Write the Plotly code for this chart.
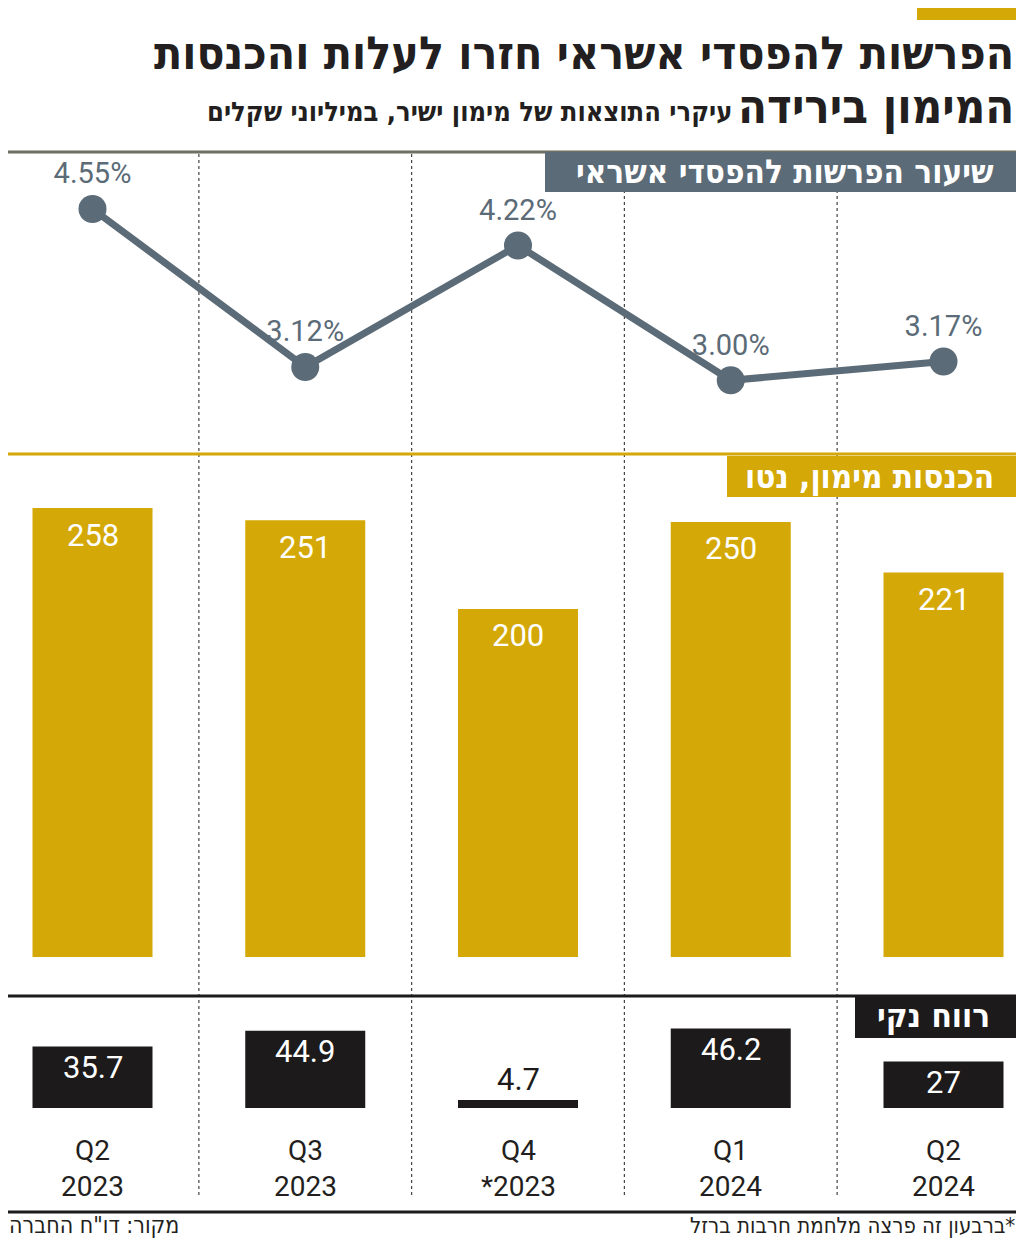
import plotly.graph_objects as go

# data
quarters = ["Q2<br>2023", "Q3<br>2023", "Q4<br>*2023", "Q1<br>2024", "Q2<br>2024"]
provision_rate = [4.55, 3.12, 4.22, 3.00, 3.17]
finance_income = [258, 251, 200, 250, 221]
net_profit = [35.7, 44.9, 4.7, 46.2, 27]

title_1 = "הפרשות להפסדי אשראי חזרו לעלות והכנסות"
title_2 = "המימון בירידה"
subtitle = "עיקרי התוצאות של מימון ישיר, במיליוני שקלים"
label_rate = "שיעור הפרשות להפסדי אשראי"
label_income = "הכנסות מימון, נטו"
label_profit = "רווח נקי"
note = "\u200f*ברבעון זה פרצה מלחמת חרבות ברזל"
source = 'מקור: דו"ח החברה'

GOLD = "#D4A806"
SLATE = "#5B6B77"
BLACK = "#1C1A1A"
TEXT = "#231F20"
HEB = "DejaVu Sans Condensed, DejaVu Sans, sans-serif"
NUM = "Liberation Sans Narrow, Roboto, sans-serif"

# page has an 8px body margin, so the figure is shrunk to fit the window
PAD = 8
W, H = 1024 - 2 * PAD, 1246 - 2 * PAD


def py(p):
    # page pixel row -> paper y
    return 1 - (p - PAD) / H


def px(p):
    return (p - PAD) / W


fig = go.Figure()

fig.add_trace(go.Scatter(
    x=quarters, y=provision_rate, mode="lines+markers+text",
    line=dict(color=SLATE, width=7),
    marker=dict(color=SLATE, size=28),
    text=[f"{v:.2f}%" for v in provision_rate],
    textposition="top center",
    textfont=dict(family=NUM, size=29, color=SLATE),
    xaxis="x", yaxis="y", cliponaxis=False,
))

fig.add_trace(go.Bar(
    x=quarters, y=finance_income, marker=dict(color=GOLD, line_width=0),
    width=0.564, xaxis="x", yaxis="y2",
))

fig.add_trace(go.Bar(
    x=quarters, y=net_profit, marker=dict(color=BLACK, line_width=0),
    width=0.564, xaxis="x", yaxis="y3",
))

annotations = []
for q, v in zip(quarters, finance_income):
    annotations.append(dict(x=q, y=v, xref="x", yref="y2", text=str(v),
                            showarrow=False, yanchor="middle", yshift=-27,
                            font=dict(family=NUM, size=31, color="white")))
for q, v in zip(quarters, net_profit):
    small = v < 10
    annotations.append(dict(x=q, y=v, xref="x", yref="y3", text=f"{v:g}",
                            showarrow=False, yanchor="middle",
                            yshift=20 if small else -21,
                            font=dict(family=NUM, size=31,
                                      color=BLACK if small else "white")))
for q in quarters:
    annotations.append(dict(x=q, y=py(1132), xref="x", yref="paper", text=q,
                            showarrow=False, yanchor="top",
                            font=dict(family=NUM, size=28, color=TEXT)))

# titles
annotations += [
    dict(x=px(1016), y=py(53), xref="paper", yref="paper", xanchor="right",
         yanchor="middle", text=f"<b>{title_1}</b>", showarrow=False,
         font=dict(family=HEB, size=46, color=TEXT)),
    dict(x=px(1016), y=py(107), xref="paper", yref="paper", xanchor="right",
         yanchor="middle", text=f"<b>{title_2}</b>", showarrow=False,
         font=dict(family=HEB, size=47, color=TEXT)),
    dict(x=px(734), y=py(111), xref="paper", yref="paper", xanchor="right",
         yanchor="middle", text=f"<b>{subtitle}</b>", showarrow=False,
         font=dict(family=HEB, size=27, color=TEXT)),
    dict(x=px(996), y=py(171), xref="paper", yref="paper", xanchor="right",
         yanchor="middle", text=f"<b>{label_rate}</b>", showarrow=False,
         font=dict(family=HEB, size=33, color="white")),
    dict(x=px(996), y=py(476), xref="paper", yref="paper", xanchor="right",
         yanchor="middle", text=f"<b>{label_income}</b>", showarrow=False,
         font=dict(family=HEB, size=33, color="white")),
    dict(x=px(992), y=py(1016), xref="paper", yref="paper", xanchor="right",
         yanchor="middle", text=f"<b>{label_profit}</b>", showarrow=False,
         font=dict(family=HEB, size=33, color="white")),
    dict(x=px(1016), y=py(1225), xref="paper", yref="paper", xanchor="right",
         yanchor="middle", text=note, showarrow=False, borderpad=0,
         font=dict(family=HEB, size=22, color=TEXT)),
    dict(x=0, y=py(1225), xref="paper", yref="paper", xanchor="left",
         yanchor="middle", text=source, showarrow=False, borderpad=0,
         font=dict(family=HEB, size=23, color=TEXT)),
]

shapes = [
    # gold tag top right
    dict(type="rect", xref="paper", yref="paper", x0=px(917), x1=px(1016),
         y0=py(7), y1=py(20), fillcolor=GOLD, line_width=0, layer="below"),
    # panel rules
    dict(type="line", xref="paper", yref="paper", x0=px(5), x1=px(1016),
         y0=py(152), y1=py(152), line=dict(color="#6F6E62", width=3)),
    dict(type="line", xref="paper", yref="paper", x0=px(5), x1=px(1016),
         y0=py(454), y1=py(454), line=dict(color=GOLD, width=3)),
    dict(type="line", xref="paper", yref="paper", x0=px(5), x1=px(1016),
         y0=py(996), y1=py(996), line=dict(color=BLACK, width=3)),
    dict(type="line", xref="paper", yref="paper", x0=px(5), x1=px(1016),
         y0=py(1212), y1=py(1212), line=dict(color=BLACK, width=3)),
    # panel label boxes
    dict(type="rect", xref="paper", yref="paper", x0=px(545), x1=px(1016),
         y0=py(192), y1=py(152), fillcolor=SLATE, line_width=0),
    dict(type="rect", xref="paper", yref="paper", x0=px(727), x1=px(1016),
         y0=py(497), y1=py(456), fillcolor=GOLD, line_width=0),
    dict(type="rect", xref="paper", yref="paper", x0=px(855), x1=px(1016),
         y0=py(1038), y1=py(997), fillcolor=BLACK, line_width=0),
]
# dotted separators between quarters
for i in range(len(quarters) - 1):
    shapes.append(dict(type="line", xref="x", yref="paper", x0=i + 0.5, x1=i + 0.5,
                       y0=py(154), y1=py(1198), layer="below",
                       line=dict(color="#444444", width=1.2, dash="dot")))

# category positions: centre of first bar at 92.5px, step 212.75px
x0 = (PAD - 92.5) / 212.75
x1 = (PAD + W - 92.5) / 212.75

fig.update_layout(
    width=W, height=H, margin=dict(l=0, r=0, t=0, b=0),
    paper_bgcolor="white", plot_bgcolor="white",
    showlegend=False, annotations=annotations, shapes=shapes,
    xaxis=dict(type="category", range=[x0, x1], domain=[0, 1],
               visible=False, anchor="y3"),
    yaxis=dict(domain=[py(455), py(152)], range=[2.324, 5.066], visible=False),
    yaxis2=dict(domain=[py(957), py(455)], range=[0, 288.5], visible=False),
    yaxis3=dict(domain=[py(1108), py(996)], range=[0, 65], visible=False),
)

fig.write_html("out.html")
